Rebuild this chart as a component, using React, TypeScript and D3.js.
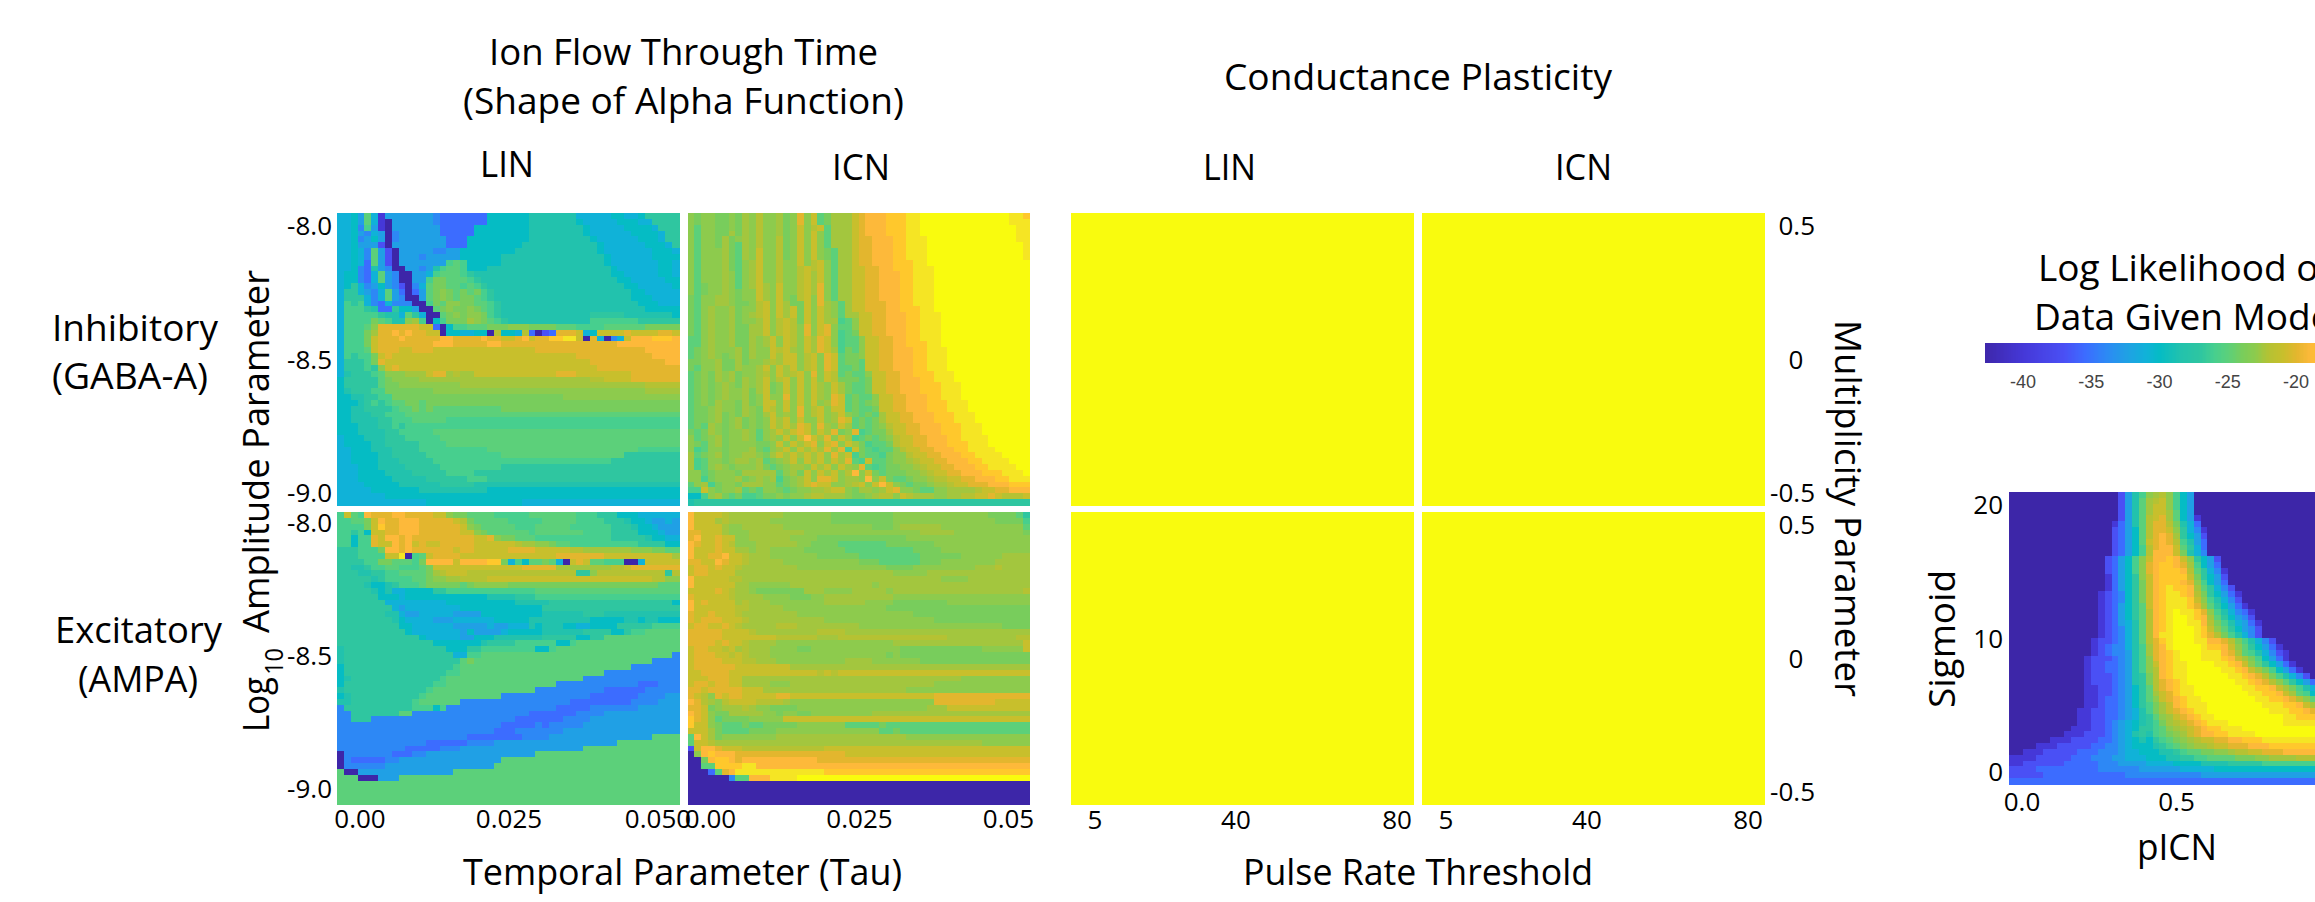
import React from "react";
import * as d3 from "d3";

const WIDTH = 2315;
const HEIGHT = 902;
const FONT = "'Open Sans', sans-serif";

// level letters (log likelihood)
const LEVEL_KEYS = "abcdefghijklmnopqrstuv".split("");
const LEVEL_VALUES = [-43, -40, -37, -35.5, -34, -32.5, -31, -30, -28.5, -27, -26, -25, -24, -23, -22.5, -22, -21, -20, -19, -17.5, -15.5, -13];

const COLOR_VALUES = [-43, -40, -37, -35.5, -34, -32.5, -31, -30, -28.5, -27, -26, -25, -24, -23, -22.5, -22, -21, -20, -19, -17.5, -15.5, -13];
const COLOR_STOPS = ["#3d26a8", "#4538d8", "#4a50f5", "#3c6cff", "#2d88f5", "#20a0e5", "#10b2d8", "#05bcc4", "#22c2ad", "#2fc6a0", "#47cf8e", "#5cd07a", "#78cd5c", "#8dcb4d", "#a3c63e", "#b5c233", "#c8bf2c", "#e3b62e", "#fdb93a", "#ffc82c", "#f5e524", "#f9fb0e"];

const INHIB_LIN = [
  "gghflgbfff ffffeddddd ddhhhhhhii iiiiigggg g hhgghjjjjj",
  "gghflgbaff ffffeddddd ddhhhhhhii iiiiihgggg ghhhggjjjj",
  "gghekfbaff fffffddddd hhhhhhhhii iiiiiihggg gghhhhgjjj",
  "gghfegfaef fffffddddd hhhhhhhhii iiiiiihggg ggghhhhgjj",
  "gghefhfaef ffffffdddh hhhhhhhhii iiiiiiihgg gggghhhgjj",
  "gghfffcaff ffffffdddh hhhhhhhiii iiiiiiiihg ggggghhhgj",
  "gghgelfcaf ffffeeffhh hhhhhhiiii iiiiiiiihg gggggghhhg",
  "gghgelfcaf ffefffffhh hhhhiiiiii iiiiiiiiih gggggghhhh",
  "gghgdlfcaf ffffffklkh hhhhiiiiii iiiiiiiiih ggggggghhg",
  "gghedifeaa ffefikllkh hhiiiiiiii iiiiiiiiii hgggggghhg",
  "ghhedglfea affgklllkj iiiiiiiiii iiiiiiiiii hhggggghhg",
  "ghhedglfea affkmmlllk jiiiiiiiii iiiiiiiiii ihhggggghh",
  "ghjgefhfec aeglmmllkl kjiiiiiiii iiiiiiiiii iihhgggggh",
  "gjjgfeglfd adflmnmlml mkjiiiiiii iiiiiiiiii iiihhggggg",
  "gjjjgeglfe aaflmnmlmm lkjiiiiiii iiiiiiiiii iiihhhgggg",
  "gkjkgedgee eaakmlnnmm llkjiiiiii iiiiiiiiii iiiihhhggg",
  "gkkkjiddjh hfaalmnmmn mlkjiiiiii iiiiiiiiii iiiiihhhhh",
  "gkkkkkjiig ljgaalmnmn nmkjiiiiii iiiiiiijjj jjiiiiiiih",
  "gkkkkmlkii nokahkmmmo nmlkjiiiii iiiiiiikkk kkkkjjjjjj",
  "gkkklnrrrr rrqqdahkkl llmmmnnnmm mmlllkkkkl lllllmmmmm",
  "gkkkmorrsr srrqqahhgg hhaphhgpda cdrrrqghqq qqrqqqqrrq",
  "gkkkmqrrrs rrrrrssrrr rsrrqqrsqr rttuuqarga egqsssttts",
  "gkkkmqrrrr rrrrsssrrr rrssrrrrrr rrrrrrrrrr rsssssssss",
  "gkkklqrrrq qrrrqqqqqq qqqqqqqqqr rrrrrrrrrr rrrrrsssss",
  "gkjkkmqrqq qqqqqqqqqq qqqqqqqqqq qqqqqrrrrr rrrrrrssss",
  "gjjjkmrqqq qqqqqqqqqq qqqqqqqqqq qqqqqqqrrr rrrrrrrrss",
  "gjjjkjnqrq qqqqqqqqqq qqqqqqqqqq qqqqqqqqrr rrrrrrrrrr",
  "gijjjklnnn oooqrropoo qqqqqqqqqq qqrrrqqqqq qqqrrrrrrr",
  "hjjjjjlmnn nnoooooooo oooooooooo oooooooppq qqqrrrrrrr",
  "hjjjjjlmmn nnnnnnnnoo oooooooooo oooooooooo oooooppppp",
  "hijjjkkmmm mmmmnnnnnn nnnnnnnnnn nnnnnnnnnn nnnnnooooo",
  "hhiijjkkmm mmmmmmmmmm mmmmmmmmmm mmmnnnnnnn nnnnnnnnnn",
  "hhhijkjkll mmlmmmmmmm mmmmmmmmmm mmmmmmmmmm mmmmmmmmmm",
  "hhiijjjjkl lmlmllllll llllmmmmmm mmmmmmmmmm mmmmmmmmmm",
  "hhiiijjkkk llllllllll llllllllll llllllllll llllllllll",
  "hhiiiijjkk klllllkkkk kkkkkkkkkk kkkkkkkkkk kkkkkkkkkk",
  "hhhiiijjkj kkkkkkkkkk kkkkkkkkkk kkkkkkkkkk kkkkkkkkkk",
  "hhhiiiijjk kkkkllllll llllllllll llllllllll llllllllll",
  "ghhhiiijjj kkkkklllll llllllllll llllllllll llllllllll",
  "ghhhhiijjj jjkkkkllll llllllllll llllllllll llllllllll",
  "gghhhiiijj jjkkkkkkkk kkllllllll llllllllll llllkkkkkk",
  "gghhhhiijj jjjkkkkkkk kkkkllllll llllllllll lljjjjjjjj",
  "gghhhhiiij jjjjkkkkkk kkkkkkkkkk kkkkkkkkkk jjjjjjjjjj",
  "ggghhhiiii jjjjjkkkkk kkkkjjjjjj jjjjjjjjjj jjjjjjjjjj",
  "ggghhhhiii ijjjjjkkkk jjjjjjjjjj jjjjjjjjjj jjjjjjjjjj",
  "ggghhhhhii iiijjjjjjk kkjjjjjjjj jjjjjjjjjj jjjjjjjjjj",
  "gggghhhhhi iiiiijjjjj iiiiiiiiii iiiiiiiiii iiiiiiiiii",
  "ggggghhhhh hhiiiiiiii iihhhhhhhh hhhhhhhhhh hhhhhhhhhh",
  "ggggggghhh hhhhhhhhhh hhhhhhhhhh hhhhhhhhhh hhhhhhhhhh",
  "gggggggggg ggghhhhhhh hhhhhhhggg gggggggggg gggggggggg",
];

const EXCIT_LIN = [
  "kqlksrrrss rrrrqqnmml lllkkkkkll lllllkkkjj jhhhgggggg",
  "kkllmqsrrs ssrrrrrqpm lllllkkkkk lllllkkkkj jjihhgffgf",
  "kkkkmqtrrs ssrrrrrrqn mlllllkkkl llllkkkkkk jjjihhgfff",
  "kkjkhqqrrs ssrrrrrrqq nmllllllkl llllllkkkk jjjjhhhgff",
  "kkhkkrqssr srrrrrrrrr qqrnmmlllk kkkkkkkkkk jjjjjihhgg",
  "kkhkkrqqsr sqrqqrrrrr qqqqqqpoon nmllkkkkkk kkkkjjjjhh",
  "jjjkkkmssr srrrrrrqrr qqqqqrrrrq qqqqppoooo ooonnnmmll",
  "jjjkkkkqqu aklqrrrrqq qqqqqqqqqq qqrrrrrrrq qqqqqqqqqo",
  "jjjjkkmmll lkmssssqss ssttmgkhll mlgaqrqllk kkaagqqqqq",
  "jjiijkkllk kklmqqqqqq qqqqqqqrrr rroooooooo ppqrrrrrrr",
  "jjjiijjkkl lllmopqqqp pppppppppp pppppjjnpp ppppppppjp",
  "jjjjjijkkk kllmnnoopp ppqqqqqqqq qqqqqqqqqq qqqqqqppnn",
  "jjjjihhijk kklmmmmmlm nnnnnmmmmm mmmmmmmmmm mmmmmmmlll",
  "jjjjjihigg hhhhjjkkkk kkkkkkkkkl llllllllll llllllllll",
  "jjjjjjhhhg hhhhhhhhhh hhiiiijjjk kkkkkkkkkk kkkkkkkkkk",
  "jjjjjjjggg gggggghhhh hhhhhhiiii ijjjjjjjjj jjjjjjjjjh",
  "jjjjjjjjgf gggggggghh hhhhhhhhhh jjjjjjjjjj jjjjjjjjjj",
  "jjjjjjjiig ffgggggfff fhhhhhhhhh iiiiiijjji iiiiiiiiii",
  "jjjjjjjjih ggggfffggg ggghhhhhii iiiiiiihhh hhiihiihhh",
  "jjjjjjjjjh hggggggfff ffgffgggih iiihhgghhh hjjjjjkkkk",
  "jjjjjjjjjj hgggggggfh ffffghhhhh iiiiiijjjj hhjkklllll",
  "jjjjjjjjjj jjhgggggff hhhiiiiiii jjjjjhhjjl llllllllll",
  "jjjjjjjjjj jjjjhhhhhh hijjjjkkkk kkhhklllll llllllllll",
  "ijjjjjjjjj jjjjjjhhhj jkkkkkkkkh hkllllllll llllllllll",
  "ijjjjjjjjj jjjjjjjggk klllllllll llllllllll llllllllle",
  "ijjjjjjjjj jjjjjjjjlm llllllllll llllllllll lllllleeee",
  "hjjjjjjjjj jjjjjjjkll llllllllll llllllllll llleeeeeee",
  "hjjjjjjjjj jjjjjjkkll llllllllll llllllllle eeeeeeeeee",
  "hijjjjjjjj jjjjjkllll llllllllll lllllleeee eeeeeeeeee",
  "hjjjjjjjjj jjjjkkllll llllllllll lleeeeeeee eeeedddeee",
  "ijjjjjjjjj jjjkllllll llllllllle eeeeeeeeed dddddeeeee",
  "hijjjjjjjj jjklllllll lllleeeeee eeeeeeeddd ddddeeeeff",
  "iijjjjjjjj jkllllllee eeeeeeeeee eeeedddddd dddeeeefff",
  "ejjjjjjjjj jkkkhkeeee eeeeeeeeee eedddddeee eeeeffffff",
  "eejjjjjjjl leeeeeeeee eeeeeeeedd dddddeeeef ffffffffff",
  "eejjjeeeee eeeeeeeeee eeeeeedddd dddeeeefff ffffffffff",
  "eeeeeeeeee eeeeeeeeee eeeeddddde deeeeeffff ffffffffff",
  "eeeeeeeeee eeeeeeeeee eeedddeeee eeefffffff ffffffffff",
  "eeeeeeeeee eeeeeeeeed dddddddeee efffffffff ffffffllll",
  "eeeeeeeeee eeedddddde eeefffffff ffffffffff flllllllll",
  "eeeeeeeeee dddddeeeff ffffffffff ffffffllll llllllllll",
  "aeeeeeeedd deefffffff fffffffffl llllllllll llllllllll",
  "aedddddeef ffffffffff ffffllllll llllllllll llllllllll",
  "aeeeeeefff ffffffffff ffflllllll llllllllll llllllllll",
  "laafffffff ffffffflll llllllllll llllllllll llllllllll",
  "lllaaafffl llllllllll llllllllll llllllllll llllllllll",
  "llllllllll llllllllll llllllllll llllllllll llllllllll",
  "llllllllll llllllllll llllllllll llllllllll llllllllll",
  "llllllllll llllllllll llllllllll llllllllll llllllllll",
  "llllllllll llllllllll llllllllll llllllllll llllllllll",
];

const INHIB_ICN = [
  "nmnnmmnmon pnnomnrnql moooqrssst ttuuvvvvvv vvvvvvvuut",
  "nmnnmmnmon pnnomnrnql moooqrssst ttuuvvvvvv vvvvvvvuuu",
  "nlnnmmnmon pnnomnqnpq loooqrssst ttuuvvvvvv vvvvvvvvuu",
  "nlnnmmomon pnnomnqnqn loooqrssst ttuuvvvvvv vvvvvvvvuu",
  "nlnnmomnon pnnpmnqnqn loooqrrsss ttuuuvvvvv vvvvvvvvuu",
  "nlnnmomlon pnnpmnqnqn loooqrrsss ttuuuvvvvv vvvvvvvvvu",
  "nlnnnomlon qnnpmnqnqn mlooqrrsss ttuuuvvvvv vvvvvvvvvu",
  "nlnnnomlon qnnpmnqnqn mlooqrrsss ttuuuvvvvv vvvvvvvvvu",
  "nlnnnomlno qnnpnnqnpq nlooqrrsss tttuuvvvvv vvvvvvvvvv",
  "nlnnnomlno qnnpnnpqpq nlooqqrrss tttuuuvvvv vvvvvvvvvv",
  "nlnnnonlno qnnpnnpqoq nlooqqrrss sttuuuvvvv vvvvvvvvvv",
  "nlnnnonlno qnnpnnpqoq nlooqqrrss sttuuuvvvv vvvvvvvvvv",
  "nlmnnonlno qonqnnpqor nlooqqrrss sttuuuvvvv vvvvvvvvvv",
  "nlmnnonmnn qonqnnpqor nlooqqrrss sttuuuvvvv vvvvvvvvvv",
  "mlnnoonmnn qonqnmpqnr nlooqqrrss sttuuuvvvv vvvvvvvvvv",
  "mlnnoonmmn pqnqommqnr onloqqrrrs sttuuuvvvv vvvvvvvvvv",
  "mlnonnomnn pqnqoqmqnq onloqqrrrs stttuuvvvv vvvvvvvvvv",
  "mlnonnomno pqnqoqmqnq onlooqqrrs ssttuuuvvv vvvvvvvvvv",
  "mlnonnomnn oqnpqpmqnq ooklnqqrrs ssttuuuvvv vvvvvvvvvv",
  "mlnonnommo oqnpqpnrnq rnllnqqrrs ssttuuuvvv vvvvvvvvvv",
  "mlnonnommo oqnpqpnrnq rnklmqqrrs ssttuuuvvv vvvvvvvvvv",
  "llnonnommo noqnqpnqor qnkllnqqrr ssttuuuvvv vvvvvvvvvv",
  "llnonnommo noqnqpnqor qnkllnqqrr sstttuuvvv vvvvvvvvvv",
  "lmnonnnomo nnqpqonqor qokmlnqqrr sssttuuuvv vvvvvvvvvv",
  "lmnonmnomo nnqoqqnpqn rqlmmnqqrr sssttuuuvv vvvvvvvvvv",
  "mmnnommomn nopoqqnpqn rqlmmlqqrr sssttuuuvv vvvvvvvvvv",
  "mlnnommonn oqnqoqnpqn rqllmlqqrr sssttuuuvv vvvvvvvvvv",
  "lmnmonomnn opnqopqnrn qplmllnqqr rsstttuuuv vvvvvvvvvv",
  "lmnmonomon oqnpqnqnqn qpmmmlmqqr rsssttuuuv vvvvvvvvvv",
  "lmnmnonmon oqmnqnqnqo nqomllmqqr rssstttuuu vvvvvvvvvv",
  "lmnmnonnom oqmnqnqnqo nqomllmqqr rssstttuuu vvvvvvvvvv",
  "lmnmnonnom nqnnrnqnqo nrqlmllnqq rrsssttuuu vvvvvvvvvv",
  "lmnmonnmom nqqnqnqnqn orqlmlmnqq rrssstttuu uvvvvvvvvv",
  "lmmnonnmon mqpnqnrnpq nqqlmllmqq rrssstttuu uvvvvvvvvv",
  "lmmnomnmon moqnonrnpq noqnmlmloq qrrssstttu uuvvvvvvvv",
  "lmmnomnomn mnqoqnqnnq norqlmlmoq qrrssstttu uuvvvvvvvv",
  "lmlonmnomn mnqoqorqnr onqolmlmnp qqrrsssttt uuuvvvvvvv",
  "mlmonmnnon lnoqoqrqnq ormnrklmmo qqrrsssttt uuuvvvvvvv",
  "nlmnomnnon lnonqnqsqo rnqoklmlmn pqqrrssstt uuuuvvvvvv",
  "nmlnomnnnn mmnqnqoqrn qrnqomkllm pqqrrssstt tuuuvvvvvv",
  "nklnnmnnno mlnoqnqoqo rorkqmlkll npqqrrssst tuuuuvvvvv",
  "olmnomnnoo nmoqoqoqoq nroqkmllkm nnpqqrrsss ttuuuuvvvv",
  "oklnnmnoon olmnoqnqoq nqorlkqllm nnopqqrrss sttuuuuvvv",
  "oklnonmnnn omlmnoonqo qnqonrlklm mnnopqqrrs ssttuuuuvv",
  "nnlmnnnmoo ooolnomqnq oqnpsnqmlm mmnnopqqrr ssstttuuuv",
  "nnkmnnnomn onokmnoqnr rqnoonsnqm llmnnoppqq rrsssttuuu",
  "lnokmnnmoo onnlmnoqrq qnnopqnqsq nmlmmnoopq qrrrsssttt",
  "kkqnmnnolm lnnmlmnnoo pqqnmoonoq rnnmllnnoo oopqqrrsss",
  "hhknomlmkk lmmnmnnopp ooonmmnopp nqpooonnoo ppqqrqpppq",
  "ijjjjjjjjj jjjjjjjjjj jjjjjjjjjj jjjjjjjjjj jjjjjjjjjj",
];

const EXCIT_ICN = [
  "sqqqqpoooo oooonnnnnn nmmmmmmmmm nnnnnnnnnn nnnnmmmmlj",
  "sqqqopoooo oonnnnnnnn nmmmmmmmmm nnnnnnnnnn nnnnnmmmmk",
  "sqqqqonnoo oooonnnnnn nnnnnnnmmm noooooonnn nnnnnnnnnl",
  "rrqqqonnno ooooooonnn nnnnnnnnnn nnnnooooon nnnnnnnnnm",
  "rsqqrqqnno ooooonnnnm mmmmmmmmmm mmnnnnnnnn nnnnnnnnnn",
  "srqqrqpnnn oooooonnmm mmlllllllm mmmmmmnnnn nnnnnnnnnn",
  "sqqqrqqoon oonnnnnmmm mmmlllllll lllmmmmnnn nnnnnnnnnn",
  "sqqrrsqqpo oonnnnnnnm mmmmmlllll llllmmmmmm nnnnnnoooo",
  "rrqqsrqqpo oooonnnnnn nnnnnmmmll llllmmmnnn nnnnnooooo",
  "qrrqrqqpoo oooooonnnn nnnnnnnnnm mmmnnnnnnn nnooopoooo",
  "qrrqqqqooo oooooooooo oooooooooo nnnnnooooo oooooooooo",
  "sqqqqqppoo oooooooooo oooooooooo ooooooonnn nooooooooo",
  "sqqqqqqoon nnnnnooooo ooooooonoo oooooooooo oooooooooo",
  "qqqqrqpoon mmmmmmmooo nnnnooooon oooooooooo ooooooooop",
  "rqqqqqpooo onnnnmmmnn oooooooooo nnnnnnnnnn nnnnnnnnnn",
  "sqrqqqqopo oonnnnnnnn oooooonnnn mmmmmmmmnn nnnnnnnnnn",
  "sqqqqqqppo oooonnnnnn nnnnnnnnnm mmmmmmmmmm mmmmmmmmmm",
  "rqqrqqqpoo oooooonnnn nnnnnnnnnn nnnmmmmmmm mmmmmmmmmm",
  "rqrrrqqqpo oooooooooo nnnnnnnnnn nnnnnnmmmm mmmmmmmmmm",
  "qrrqqrqpoo ooopppoooo ooooonnnnn nnnnnnnnnn nnnnnnmmmm",
  "rrrrrqqqqp ooooooooop pppooooooo oooooooooo oooooooooo",
  "rrrrrqqqqq qqqppppppo oopppppppp ppppppppoo oooooooopp",
  "rrrrqrqqpo ooonnnnnnn nnnnnnnnnn oooooooooo oooooooooq",
  "qrrqqpqopo oonnnnmmnn nnnnnnnnnn nmmmmmmmmm mmmnnnnnnq",
  "qrrrqqpqpo oonnnnnnnn nnnnnnnnnm nmmmmmmmmm mmmmmmmmmm",
  "qrrrrqqqpp ooonnnnnnn nnnoooonnn nnnnmmmmmm mmmmmmmmmm",
  "qrrrrrrqqq qqqqqooooo oooooooooo oooooooooo oooooooooo",
  "qqrrrrqqqq qqqqqqqqqp qpqqqqqqqq qqqqqqqqqq qqqqqqqqqq",
  "qqqrrrqqoo oooooooooo oooooooooo oooooooooo nnnnnnnnnn",
  "qrrqrrqqoo oonnnooooo oooooooooo oooooonnnn nnnnnnnnnn",
  "rrqrrrrrqq qooooooooo oooooooooo oonnnnnnnn nnnnnnnnnn",
  "rqpnrqrrqq qqqrrqqqqq qqqqqqqqqq qqqqqqrrrr rrrrrrrrrr",
  "srponpqqqq pppponnnnn nnnnnnnnnn nnnnnnrrrr rrrrrqqqqq",
  "rrqmnooopo nnmmmmnnnn nnnnnnnnnn nnnnnoooqq qqqqqqqqqq",
  "srqnmmoooo onnmnnmmnn nnnnnnnooo oooooooooo oooooooooo",
  "trqnlmmmmn nnnnqqqqqq qqqqqqqqqq qqqqqqqqqq qqqqqqqqqq",
  "tqqnmlllml lmmmmmnnnn nnnlllllml llllllllll llllllllll",
  "qqqomllllm mmmnnnnnnn nnnnnnnnll mlllllllll llllllllll",
  "lsqomnnnnn nnnooooooo oooooooooo oonnnnnnnn nnnnnnnnnn",
  "lqqpoooooo oooooooooo oooooooooo oooooooooo ooonnnnnnn",
  "cqssrqqqpp pppppppppp qqqqqqqqqq qqqqqqqqqq qqqqqqqqqq",
  "anstsssrrr rrrrrrrrrr rrrqqqqqqq qqqqqqqqqq qqqqqqqqqq",
  "aamsttsrss sssssssssr rrrrrrrrrr rrrrrrrrrr rrrrrrrrrr",
  "aallttttuu ssssssssss ssssssssss ssssssssss ssssssssss",
  "aaadlrsuuu uuuuuuuuuu tttttttttt tttttttttt tttttttttt",
  "aaaaaaells ssuuuuvvvv vvvvvvvvvv vvvvvvvvvv vvvvvvvvvv",
  "aaaaaaaaaa aaaaaaaaaa aaaaaaaaaa aaaaaaaaaa aaaaaaaaaa",
  "aaaaaaaaaa aaaaaaaaaa aaaaaaaaaa aaaaaaaaaa aaaaaaaaaa",
  "aaaaaaaaaa aaaaaaaaaa aaaaaaaaaa aaaaaaaaaa aaaaaaaaaa",
  "aaaaaaaaaa aaaaaaaaaa aaaaaaaaaa aaaaaaaaaa aaaaaaaaaa",
];

// the conductance plasticity panels are one flat value
const FLAT_PANEL = ["v"];

// only 45 of the 50 columns are inside the picture
const SIGMOID_PICN = [
  "aaaaaaaaaa aaaaaacfik nopnkhfaaa aaaaaaaaaa aaaaa",
  "aaaaaaaaaa aaaaaacfil opqnkhfaaa aaaaaaaaaa aaaaa",
  "aaaaaaaaaa aaaaaacfil oqqnkhfaaa aaaaaaaaaa aaaaa",
  "aaaaaaaaaa aaaaaacfil oqqolhfaaa aaaaaaaaaa aaaaa",
  "aaaaaaaaaa aaaaaacfil pqrolhfbaa aaaaaaaaaa aaaaa",
  "aaaaaaaaaa aaaaabdfil prrpmigdaa aaaaaaaaaa aaaaa",
  "aaaaaaaaaa aaaaacdfhl prrqnjgeba aaaaaaaaaa aaaaa",
  "aaaaaaaaaa aaaaacdfhl prsrojhfca aaaaaaaaaa aaaaa",
  "aaaaaaaaaa aaaaacdfhl qrsrpkifda aaaaaaaaaa aaaaa",
  "aaaaaaaaaa aaaaacdfhk prssqljgda aaaaaaaaaa aaaaa",
  "aaaaaaaaaa aaaaacdfhk psssqmigea aaaaaaaaaa aaaaa",
  "aaaaaaaaaa aaaacdfhkn qsstsqnjhf caaaaaaaaa aaaaa",
  "aaaaaaaaaa aaaacdfhkn rsttsrokhf daaaaaaaaa aaaaa",
  "aaaaaaaaaa aaaacdfhkn rstttspljg ebaaaaaaaa aaaaa",
  "aaaaaaaaaa aaaabdfhjn qsttttqmjh fcaaaaaaaa aaaaa",
  "aaaaaaaaaa aaaabdfhjm qstttsrnkh fdaaaaaaaa aaaaa",
  "aaaaaaaaaa aaaabdfhjm qstuttsolj gecaaaaaaa aaaaa",
  "aaaaaaaaaa aaabcdehjm qstuutspmj hfdbaaaaaa aaaaa",
  "aaaaaaaaaa aaabcdehjm qstuuutqnk igecaaaaaa aaaaa",
  "aaaaaaaaaa aaabcdfhjl qstuuutrol jhfdbaaaaa aaaaa",
  "aaaaaaaaaa aaabcdfhjl pstuvuutrn kigedbaaaa aaaaa",
  "aaaaaaaaaa aaabcdfhjl pstuvvutso ljhfecaaaa aaaaa",
  "aaaaaaaaaa aaabcdfgil pstuvvuusp mkigfdbaaa aaaaa",
  "aaaaaaaaaa aaabcdegil pstuvvvutq nljhfecaaa aaaaa",
  "aaaaaaaaaa aaabcdegil psuuvvvutr pmkigecaaa aaaaa",
  "aaaaaaaaaa aabccdegil prtuvvvuus srpmkigeca aaaaa",
  "aaaaaaaaaa aabcdeegik orsuvvvvut tsqnljhfdb aaaaa",
  "aaaaaaaaaa aabcdeefik orstuvvvuu usrolkigec baaaa",
  "aaaaaaaaaa abcccdefik nrstuvvvuu utsqomkhfd baaaa",
  "aaaaaaaaaa abccddefik nqstuuvvvv uutsqnljhf dbaaa",
  "aaaaaaaaaa abccddefik npstuuvvvv vuutsqomkh fdbaa",
  "aaaaaaaaaa abcccdefij mpstuuvvvv vvuutsrpmk igeca",
  "aaaaaaaaaa abcccdefij mprstuvvvv vvvuutsrpn ljhfd",
  "aaaaaaaaaa abbccdefhj lprstuuvvv vvvvuuttsq omkig",
  "aaaaaaaaaa abbccdefhj loqrtuuvvv vvvvvuutts qolkh",
  "aaaaaaaaaa abbcddefhj lnqrstuuvv vvvvvvuutt srpnl",
  "aaaaaaaaaa abbcddefhj kmoqstuuuv vvvvvvvuuu ttsqo",
  "aaaaaaaaaa bbccddefgi kmoqrstuuv vvvvvvvvuu uttsr",
  "aaaaaaaaaa bbccddefgi jlnoqrstuu vvvvvvvvvv uuttt",
  "aaaaaaaaaa bbccdefghi jkmopqrstu uuvvvvvvvv uuuuu",
  "aaaaaaaaab bbccdefghj jklnopqrst tuuuvvvvvv vvvvv",
  "aaaaaaaabb bcccdefgij iklmnoqrss ttuuuuvvvv vvvvv",
  "aaaaaabbbc cccddefghi hjklmnopqq rrsstttuuu uuuuu",
  "aaaabbbccc ccddeefghh hijklmnoop qqrrrssstt ttttt",
  "aabbbccccc dddeeefggh hhiijkllmm nnoppqqrrr sssss",
  "bbbbcccccd ddeeeffggg hhhiijjkkl lllmmmnnoo ooppp",
  "bbccccccdd dddeeeffff gggghhhhii iijjjjjkkk kkkkk",
  "ccccdddddd dddeeeeeef fffffggggg hhhhhhhhhh hhhhh",
  "cccccddddd dddddddeee eeeeeeeeff ffffffffff fffff",
  "dddddddddd dddddddddd dddddddddd dddddddddd ddddd",
];

const TAU_TICKS = [0, 0.025, 0.05];
const TAU_LABELS_LEFT = ["0.00", "0.025", "0.050"];
const TAU_LABELS_RIGHT = ["0.00", "0.025", "0.05"];
const AMP_TICKS = [-8, -8.5, -9];
const PULSE_TICKS = [5, 40, 80];
const MULT_TICKS = [0.5, 0, -0.5];
const MULT_LABELS = ["0.5", "0", "-0.5"];
const SIGMOID_TICKS = [0, 10, 20];
const PICN_TICKS = [0, 0.5];
const BAR_TICKS = [-40, -35, -30, -25, -20];

const color = d3.scaleLinear<string>().domain(COLOR_VALUES).range(COLOR_STOPS).interpolate(d3.interpolateRgb).clamp(true);
const levelOf = d3.scaleOrdinal<string, number>().domain(LEVEL_KEYS).range(LEVEL_VALUES);

const PANEL_W = 342;
const PANEL_H = 292;
const COL_X = [337, 687.5, 1071, 1422];
const ROW_Y = [213, 512];

const Heatmap = ({ rows, x, y, cols = 50, visible = 50 }: { rows: string[]; x: number; y: number; cols?: number; visible?: number }) => {
  const flat = rows.length === 1;
  const cells = rows.map((r) => {
    const s = r.replace(/ /g, "");
    return flat ? s : s.padEnd(visible, s[s.length - 1]).slice(0, visible);
  });
  const xBand = d3.scaleBand<number>().domain(d3.range(flat ? 1 : cols)).range([x, x + PANEL_W]);
  const yBand = d3.scaleBand<number>().domain(d3.range(rows.length)).range([y, y + PANEL_H]);
  return (
    <g shapeRendering="crispEdges">
      {cells.map((row, i) =>
        row.split("").map((k, j) => (
          <rect
            key={`${i}-${j}`}
            x={xBand(j)}
            y={yBand(i)}
            width={xBand.bandwidth() + 0.5}
            height={yBand.bandwidth() + 0.5}
            fill={color(levelOf(k))}
          />
        ))
      )}
    </g>
  );
};

// text.  width squeezes the glyphs to the measured width of the label
const Label = ({ x, y, width, size = 37, rotate, children }: any) => (
  <text
    x={x}
    y={y}
    fontFamily={FONT}
    fontSize={size}
    fill="#000"
    textLength={width}
    lengthAdjust={width ? "spacingAndGlyphs" : undefined}
    transform={rotate ? `rotate(${rotate} ${x} ${y})` : undefined}
  >
    {children}
  </text>
);

const Tick = ({ x, y, anchor = "middle", children }: any) => (
  <text x={x} y={y} fontFamily={FONT} fontSize={26} fill="#000" textAnchor={anchor}>
    {children}
  </text>
);

export default function App() {
  const barX = d3.scaleLinear().domain([-40, -20]).range([2023, 2296]);
  const barValues = d3.range(-42.8, -18.5, 0.1);
  const sigY = d3.scaleLinear().domain([0, 20]).range([781, 514]);
  const picnX = d3.scaleLinear().domain([0, 1]).range([2022, 2331]);

  return (
    <svg width={WIDTH} height={HEIGHT} style={{ position: "absolute", left: 0, top: 0, display: "block", background: "#fff" }}>
      {/* heat maps */}
      <Heatmap rows={INHIB_LIN} x={COL_X[0]} y={ROW_Y[0]} />
      <Heatmap rows={INHIB_ICN} x={COL_X[1]} y={ROW_Y[0]} />
      <Heatmap rows={EXCIT_LIN} x={COL_X[0]} y={ROW_Y[1]} />
      <Heatmap rows={EXCIT_ICN} x={COL_X[1]} y={ROW_Y[1]} />
      {COL_X.slice(2).map((cx) =>
        ROW_Y.map((ry) => <Heatmap key={`${cx}-${ry}`} rows={FLAT_PANEL} x={cx} y={ry} />)
      )}
      <Heatmap rows={SIGMOID_PICN} x={2009} y={492} visible={45} />

      {/* column and row titles */}
      <Label x={489} y={65} width={389}>Ion Flow Through Time</Label>
      <Label x={463} y={114} width={441}>(Shape of Alpha Function)</Label>
      <Label x={480} y={177} width={54}>LIN</Label>
      <Label x={832} y={180} width={58}>ICN</Label>
      <Label x={1224} y={90} width={388}>Conductance Plasticity</Label>
      <Label x={1203} y={180} width={53}>LIN</Label>
      <Label x={1555} y={180} width={57}>ICN</Label>
      <Label x={52} y={341} width={166}>Inhibitory</Label>
      <Label x={52} y={389} width={156}>(GABA-A)</Label>
      <Label x={55} y={643} width={167}>Excitatory</Label>
      <Label x={78} y={692} width={120}>(AMPA)</Label>
      <Label x={269} y={732} width={55} rotate={-90}>Log</Label>
      <Label x={283} y={675} width={27} size={26} rotate={-90}>10</Label>
      <Label x={269} y={633} width={363} rotate={-90}>Amplitude Parameter</Label>
      <Label x={463} y={885} width={439}>Temporal Parameter (Tau)</Label>
      <Label x={1243} y={885} width={350}>Pulse Rate Threshold</Label>
      <Label x={1835} y={320} width={377} rotate={90}>Multiplicity Parameter</Label>

      {/* left axes */}
      {ROW_Y.map((ry, r) => {
        const amp = d3.scaleLinear().domain([-8, -9]).range(r === 0 ? [ry + 22, ry + 289] : [ry + 20, ry + 286]);
        const mult = d3.scaleLinear().domain([0.5, -0.5]).range([ry + 22, ry + 289]);
        return (
          <g key={ry}>
            {AMP_TICKS.map((t) => (
              <Tick key={t} x={332} y={amp(t)} anchor="end">{t.toFixed(1)}</Tick>
            ))}
            {MULT_TICKS.map((t, i) => (
              <Tick key={t} x={i === 1 ? 1796 : 1815} y={mult(t)} anchor={i === 1 ? "middle" : "end"}>{MULT_LABELS[i]}</Tick>
            ))}
          </g>
        );
      })}

      {/* bottom axes */}
      {[COL_X[0], COL_X[1]].map((cx, c) => {
        const tau = d3.scaleLinear().domain([0, 0.05]).range([cx + 23, cx + 321]);
        const labels = c === 0 ? TAU_LABELS_LEFT : TAU_LABELS_RIGHT;
        return TAU_TICKS.map((t, i) => (
          <Tick key={`${c}-${t}`} x={tau(t)} y={828}>{labels[i]}</Tick>
        ));
      })}
      {[COL_X[2], COL_X[3]].map((cx) => {
        const pulse = d3.scaleLinear().domain([5, 80]).range([cx + 24, cx + 326]);
        return PULSE_TICKS.map((t) => (
          <Tick key={`${cx}-${t}`} x={pulse(t)} y={829}>{t}</Tick>
        ));
      })}

      {/* colour bar */}
      <Label x={2038} y={281}>Log Likelihood of</Label>
      <Label x={2034} y={330}>Data Given Model</Label>
      <g shapeRendering="crispEdges">
        {barValues.map((v) => (
          <rect key={v} x={barX(v)} y={343} width={2} height={20} fill={color(v)} />
        ))}
      </g>
      {BAR_TICKS.map((t) => (
        <text key={t} x={barX(t)} y={388} textAnchor="middle" fontFamily="'Liberation Sans', sans-serif" fontSize={18} fill="#444">
          {t}
        </text>
      ))}

      {/* sigmoid panel axes */}
      {SIGMOID_TICKS.map((t) => (
        <Tick key={t} x={2003} y={sigY(t)} anchor="end">{t}</Tick>
      ))}
      {PICN_TICKS.map((t) => (
        <Tick key={t} x={picnX(t)} y={811}>{t.toFixed(1)}</Tick>
      ))}
      <Label x={2137} y={860} width={80}>pICN</Label>
      <Label x={1955} y={708} width={138} rotate={-90}>Sigmoid</Label>
    </svg>
  );
}
